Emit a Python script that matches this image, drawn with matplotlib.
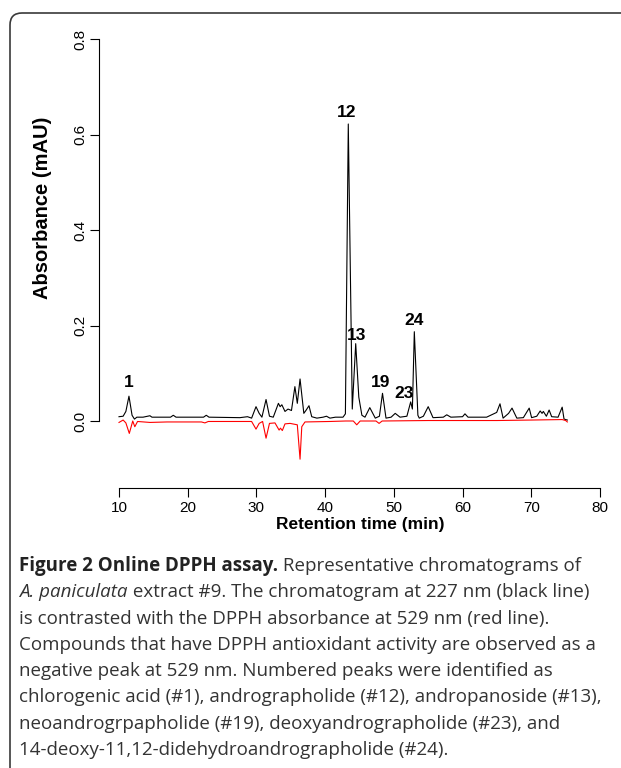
import numpy as np
import matplotlib
matplotlib.use("Agg")
import matplotlib.pyplot as plt
import matplotlib.transforms as mtransforms
from matplotlib.patches import FancyBboxPatch
"""
Cromatograma en linea con DPPH (227 nm en negro, 529 nm en rojo)
"""
# Cromatograma a 227 nm (tiempo en min, absorbancia)
t_negro = [10.0, 10.6, 11.0, 11.45, 11.9, 12.25, 12.6, 13.5, 14.5, 14.8,
           17.5, 17.9, 18.3, 22.3, 22.7, 23.1, 27.6, 28.7, 29.3, 29.94,
           30.4, 30.8, 31.4, 31.9, 32.45, 33.2, 33.45, 33.7, 34.16, 34.6,
           35.1, 35.6, 35.95, 36.35, 36.9, 37.2, 37.65, 38.05, 38.8, 39.7,
           40.2, 40.7, 41.5, 42.6, 42.95, 43.37, 43.95, 44.45, 44.9, 45.35,
           45.8, 46.5, 47.3, 47.9, 48.35, 48.86, 49.6, 50.2, 50.9, 51.9,
           52.45, 52.7, 52.98, 53.5, 53.7, 54.3, 55.0, 55.7, 57.2, 57.7,
           58.3, 60.0, 60.35, 60.8, 63.5, 64.97, 65.45, 65.9, 66.7, 67.2,
           67.9, 68.85, 69.7, 70.05, 70.8, 71.3, 71.57, 71.76, 72.2, 72.6,
           72.97, 73.9, 74.5, 74.77, 75.25]
a_negro = [0.009, 0.010, 0.020, 0.052, 0.012, 0.004, 0.008, 0.008, 0.011, 0.008,
           0.008, 0.012, 0.008, 0.008, 0.012, 0.008, 0.007, 0.009, 0.006, 0.030,
           0.016, 0.008, 0.045, 0.010, 0.008, 0.037, 0.030, 0.034, 0.020, 0.025,
           0.022, 0.072, 0.037, 0.088, 0.016, 0.022, 0.032, 0.009, 0.006, 0.008,
           0.010, 0.006, 0.008, 0.008, 0.015, 0.622, 0.025, 0.162, 0.050, 0.012,
           0.008, 0.028, 0.006, 0.010, 0.058, 0.006, 0.008, 0.016, 0.008, 0.010,
           0.040, 0.025, 0.187, 0.012, 0.006, 0.010, 0.030, 0.007, 0.008, 0.013,
           0.008, 0.009, 0.015, 0.008, 0.008, 0.018, 0.036, 0.006, 0.016, 0.027,
           0.006, 0.007, 0.027, 0.007, 0.010, 0.021, 0.016, 0.020, 0.010, 0.023,
           0.009, 0.008, 0.029, 0.004, 0.002]

# Absorbancia DPPH a 529 nm
t_rojo = [10.0, 10.6, 11.0, 11.5, 12.0, 12.3, 12.7, 14.5, 17.0, 22.0,
          22.5, 23.0, 29.3, 29.94, 30.4, 30.9, 31.4, 31.9, 32.7, 33.3,
          33.5, 33.77, 34.16, 34.9, 35.6, 35.95, 36.35, 36.6, 37.07, 40.7,
          43.0, 44.1, 44.6, 45.1, 47.4, 47.85, 48.3, 55.0, 65.0, 70.0,
          74.5, 75.0, 75.25]
a_rojo = [-0.003, 0.002, -0.004, -0.026, 0.000, -0.012, -0.001, -0.003, -0.002, -0.002,
          -0.004, -0.001, -0.001, -0.017, -0.005, -0.001, -0.036, -0.005, -0.004, -0.019,
          -0.015, -0.020, -0.006, -0.005, -0.007, -0.008, -0.080, -0.012, -0.002, -0.001,
          0.000, 0.000, -0.008, 0.000, 0.000, -0.005, 0.000, 0.001, 0.001, 0.002,
          0.003, 0.001, -0.002]

# Picos numerados: etiqueta, tiempo y altura del texto
picos = ["1", "12", "13", "19", "23", "24"]
t_picos = [11.4, 43.2, 44.6, 48.1, 51.5, 52.9]
y_picos = [0.08, 0.647, 0.18, 0.08, 0.057, 0.21]

xticks = [10, 20, 30, 40, 50, 60, 70, 80]
yticks = [0.0, 0.2, 0.4, 0.6, 0.8]

W, H = 621, 768
fig = plt.figure(figsize=(W / 100, H / 100), dpi=100)

# Marco redondeado (se sale por la derecha y por abajo)
marco = FancyBboxPatch((10, -40), 700, H - 13 + 40,
                       boxstyle="round,pad=0,rounding_size=12",
                       transform=mtransforms.IdentityTransform(),
                       facecolor="none", edgecolor="#3a3a3a", linewidth=1.2)
fig.patches.append(marco)

# Ejes (posiciones en pixeles pasadas a fraccion de figura)
izq, der, arr, aba = 99, 610, 30, 488
ax = fig.add_axes([izq / W, 1 - aba / H, (der - izq) / W, (aba - arr) / H])
ax.patch.set_alpha(0)

ax.plot(t_negro, a_negro, color="black", lw=0.8)
ax.plot(t_rojo, a_rojo, color="red", lw=0.8)

for lab, tx, ty in zip(picos, t_picos, y_picos):
    ax.text(tx, ty, lab, ha="center", va="center", fontsize=12.5,
            fontweight="bold", family="Liberation Sans")

px_min = 68.71 / 10
ax.set_xlim(10 - (119 - izq) / px_min, 10 + (der - 119) / px_min)
px_u = 477.5
ax.set_ylim(-(aba - 421) / px_u, (421 - arr) / px_u)

for s in ["top", "right"]:
    ax.spines[s].set_visible(False)
ax.spines["bottom"].set_bounds(10, 80)
ax.spines["left"].set_bounds(0, 0.8)
ax.set_xticks(xticks)
ax.set_yticks(yticks)
ax.set_xticklabels([str(v) for v in xticks])
ax.set_yticklabels(["%.1f" % v for v in yticks], rotation=90, va="center")
ax.tick_params(direction="out", length=6.5, width=0.8, labelsize=11)
ax.tick_params(axis="x", pad=3)
ax.tick_params(axis="y", pad=2)
for lb in ax.get_xticklabels() + ax.get_yticklabels():
    lb.set_family("Liberation Sans")

# Titulos de ejes como texto de figura (posicion en pixeles)
fig.text(360 / W, 1 - 525 / H, "Retention time (min)", ha="center", va="center",
         fontsize=12.5, fontweight="bold", family="Liberation Sans")
fig.text(43 / W, 1 - 208 / H, "Absorbance (mAU)", ha="center", va="center",
         rotation=90, fontsize=14.5, fontweight="bold", family="Liberation Sans")

# Pie de figura, linea a linea con trozos en negrita / cursiva
gris = "#333333"
base = dict(family="Open Sans", fontsize=13.5, color=gris, va="baseline")
negrita = dict(base, fontweight="bold", color="#222222")
cursiva = dict(base, style="italic")
lineas = [
    [("Figure 2 Online DPPH assay.", negrita), (" Representative chromatograms of", base)],
    [("A. paniculata", cursiva), (" extract #9. The chromatogram at 227 nm (black line)", base)],
    [("is contrasted with the DPPH absorbance at 529 nm (red line).", base)],
    [("Compounds that have DPPH antioxidant activity are observed as a", base)],
    [("negative peak at 529 nm. Numbered peaks were identified as", base)],
    [("chlorogenic acid (#1), andrographolide (#12), andropanoside (#13),", base)],
    [("neoandrogrpapholide (#19), deoxyandrographolide (#23), and", base)],
    [("14-deoxy-11,12-didehydroandrographolide (#24).", base)],
]
r = fig.canvas.get_renderer()
y0 = 571
for i, trozos in enumerate(lineas):
    x = 19
    y = 1 - (y0 + i * 26.3) / H
    for txt, kw in trozos:
        t = fig.text(x / W, y, txt, **kw)
        x = t.get_window_extent(renderer=r).x1

fig.savefig("out.png", dpi=100)
